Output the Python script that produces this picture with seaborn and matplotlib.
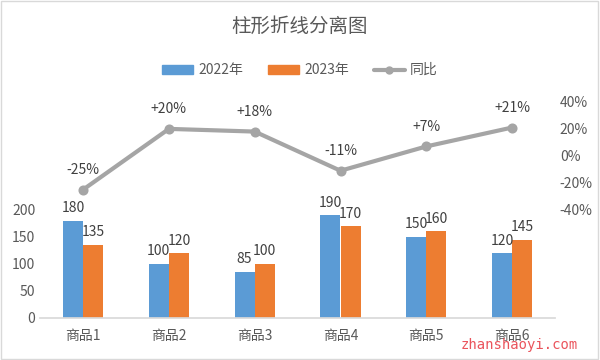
import pandas as pd
import matplotlib.pyplot as plt
import seaborn as sns
from matplotlib.patches import Patch
from matplotlib.lines import Line2D

sns.set_theme(style="white")
plt.rcParams['font.family'] = ['Noto Sans CJK SC', 'DejaVu Sans']

# data
products = ['商品1', '商品2', '商品3', '商品4', '商品5', '商品6']
sales_2022 = [180, 100, 85, 190, 150, 120]
sales_2023 = [135, 120, 100, 170, 160, 145]
yoy = [-25, 20, 18, -11, 7, 21]

blue = '#5B9BD5'
orange = '#ED7D31'
gray = '#A5A5A5'
text_c = '#595959'

df = pd.DataFrame({
    '商品': products * 2,
    '销量': sales_2022 + sales_2023,
    '年份': ['2022年'] * 6 + ['2023年'] * 6,
})

fig = plt.figure(figsize=(6, 3.6), dpi=100)
ax = fig.add_axes([0.067, 0.117, 0.858, 0.6])

sns.barplot(data=df, x='商品', y='销量', hue='年份', palette=[blue, orange],
            width=0.47, gap=0, ax=ax, legend=False, saturation=1, linewidth=0)
for cont in ax.containers:
    ax.bar_label(cont, padding=4, fontsize=10, color='#404040')

ax.set_ylim(0, 400)
ax.set_yticks([0, 50, 100, 150, 200])
ax.set_xlim(-0.5, 5.5)
ax.set_xlabel('')
ax.set_ylabel('')
ax.tick_params(axis='both', labelsize=10, colors=text_c, length=0)
ax.tick_params(axis='x', pad=8)
for s in ['left', 'right', 'top']:
    ax.spines[s].set_visible(False)
ax.spines['bottom'].set_color('#d9d9d9')

# line on secondary axis
ax2 = ax.twinx()
sns.pointplot(x=list(range(6)), y=yoy, native_scale=True, color=gray,
              markers='o', markersize=5, linewidth=3, ax=ax2)
for i, v in enumerate(yoy):
    lab = f'+{v}%' if v > 0 else f'{v}%'
    ax2.annotate(lab, (i, v), xytext=(0, 9), textcoords='offset points',
                 ha='center', va='bottom', fontsize=10, color='#404040')
ax2.set_ylim(-120, 40)
ax2.set_yticks([-40, -20, 0, 20, 40])
ax2.set_yticklabels([f'{t}%' for t in [-40, -20, 0, 20, 40]])
ax2.tick_params(axis='y', labelsize=10, colors=text_c, length=0)
ax2.set_xlim(-0.5, 5.5)
for s in ['left', 'right', 'top', 'bottom']:
    ax2.spines[s].set_visible(False)

fig.suptitle('柱形折线分离图', y=0.955, fontsize=14, color=text_c)

handles = [Patch(color=blue, label='2022年'),
           Patch(color=orange, label='2023年'),
           Line2D([0], [0], color=gray, lw=3, marker='o', markersize=5, label='同比')]
leg = fig.legend(handles=handles, loc='center', bbox_to_anchor=(0.5, 0.805), ncol=3,
                 frameon=False, fontsize=10, handlelength=2.2, handleheight=0.6,
                 columnspacing=1.8, handletextpad=0.4)
for t in leg.get_texts():
    t.set_color(text_c)

fig.text(0.963, 0.042, 'zhanshaoyi.com', ha='right', va='center', fontsize=10,
         color='#E8414A', family='DejaVu Sans Mono', alpha=0.9)

fig.patches.append(plt.Rectangle((0.002, 0.003), 0.995, 0.993, transform=fig.transFigure,
                                 fill=False, edgecolor='#d9d9d9', lw=1))

fig.savefig('out.png', dpi=100)
